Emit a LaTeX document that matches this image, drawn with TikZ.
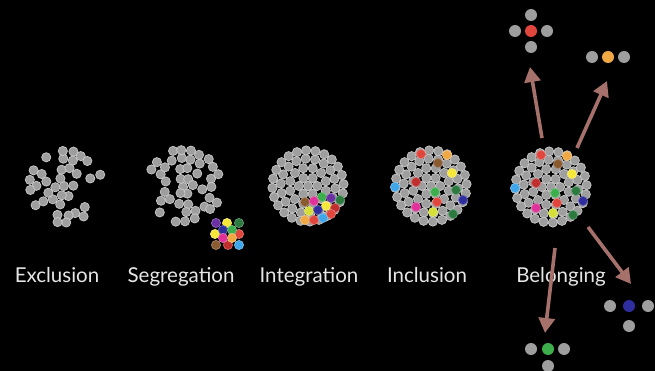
\documentclass[tikz,border=0pt]{standalone}
\usepackage{fontspec}
\setmainfont{Lato}
\usetikzlibrary{arrows.meta}
\definecolor{dotgray}{HTML}{9E9E9E}
\definecolor{rimgray}{HTML}{CACACA}
\definecolor{arrowc}{HTML}{A6716B}
\definecolor{cred}{HTML}{E0463C}
\definecolor{cdred}{HTML}{C02E2E}
\definecolor{corange}{HTML}{F0A845}
\definecolor{cbrown}{HTML}{8A5A30}
\definecolor{cyellow}{HTML}{F6E83A}
\definecolor{cyg}{HTML}{D6DE3A}
\definecolor{clblue}{HTML}{3FA6EA}
\definecolor{cgreen}{HTML}{3DAE4C}
\definecolor{cdgreen}{HTML}{2C7A40}
\definecolor{cdblue}{HTML}{2E2E9E}
\definecolor{cpurple}{HTML}{6B30A2}
\definecolor{cmag}{HTML}{E0329A}
\definecolor{labelc}{HTML}{E6E6E6}
\tikzset{
  gdot/.style={fill=dotgray, draw=rimgray, line width=0.7pt},
  kdot/.style={fill=#1, draw=#1!70!white, line width=0.6pt},
  lbl/.style={text=labelc, font=\fontsize{20.5}{22}\selectfont, anchor=base},
  arr/.style={draw=arrowc, line width=3.6pt, -{Triangle[length=15pt,width=16pt]}}
}
\newcommand{\dotcluster}[5]{%
  \pgfmathsetseed{#4}%
  \foreach \r/\n/\o in {0/1/0, 9.2/6/0, 18.4/12/15, 27.4/18/5, 35.6/24/12}{%
    \foreach \k in {1,...,\n}{%
      \pgfmathsetmacro\aa{\o+360*\k/\n}%
      \pgfmathtruncatemacro\keep{rnd>=#3}%
      \pgfmathsetmacro\px{#1+\r*cos(\aa)+(rnd-0.5)*#5}%
      \pgfmathsetmacro\py{#2+\r*sin(\aa)+(rnd-0.5)*#5}%
      \ifnum\keep=1
        \draw[gdot] (\px,\py) circle (4.6);
      \fi
    }%
  }%
}
\newcommand{\cd}[3]{\draw[kdot=#3] (#1,#2) circle (4.6);}
\begin{document}
\begin{tikzpicture}[x=1pt,y=-1pt]
\fill[black] (0,0) rectangle (655,371);
\useasboundingbox (0,0) rectangle (655,371);

% clusters
\dotcluster{65}{187}{0.27}{7}{3}
\dotcluster{184}{186}{0.27}{21}{3}
\dotcluster{308}{186}{0}{1}{0}
\dotcluster{431}{186}{0}{1}{0}
\dotcluster{551}{187}{0}{1}{0}

% segregation colored group
\cd{216}{223}{cpurple}\cd{227}{223}{cyellow}\cd{239}{223}{cdgreen}
\cd{215}{234}{cyellow}\cd{239}{234}{cred}
\cd{216}{245}{cbrown}\cd{228}{245}{cdred}\cd{239}{245}{clblue}
\cd{223}{230}{cdblue}\cd{232}{230}{cgreen}
\cd{223}{238}{cmag}\cd{232}{238}{corange}

% integration colored
\cd{322}{197}{cgreen}\cd{331}{198}{cpurple}\cd{340}{200}{cdgreen}
\cd{305}{202}{cbrown}\cd{314}{201}{cmag}\cd{326}{206}{cyellow}
\cd{335}{208}{cdred}\cd{309}{211}{cyg}\cd{318}{210}{cdblue}
\cd{331}{214}{cred}\cd{305}{220}{corange}\cd{314}{220}{cred}
\cd{323}{218}{clblue}

% inclusion and belonging colored
\foreach \dx/\dy in {0/0,120/1}{
\cd{421+\dx}{154+\dy}{cred}\cd{447+\dx}{155+\dy}{corange}
\cd{438+\dx}{163+\dy}{cbrown}\cd{452+\dx}{173+\dy}{cyellow}
\cd{395+\dx}{187+\dy}{clblue}\cd{416+\dx}{182+\dy}{cdred}
\cd{435+\dx}{192+\dy}{cgreen}\cd{456+\dx}{190+\dy}{cdgreen}
\cd{437+\dx}{202+\dy}{cred}\cd{463+\dx}{200+\dy}{cdblue}
\cd{416+\dx}{207+\dy}{cmag}\cd{433+\dx}{212+\dy}{cyg}
\cd{453+\dx}{214+\dy}{cdgreen}
}

% labels
\node[lbl] (l1) at (57,282) {Exclusion};
\node[lbl] (l2) at (181,282) {Segregation};
\node[lbl] (l3) at (309,282) {Integration};
\node[lbl] (l4) at (427,282) {Inclusion};
\node[lbl] (l5) at (561,282) {Belonging};

% small groups
\foreach \p/\c in {{531,15}/dotgray,{515,31}/dotgray,{547,31}/dotgray,{531,47}/dotgray,{531,31}/cred,
  {592,57}/dotgray,{608,57}/corange,{624,57}/dotgray,
  {610,306}/dotgray,{629,306}/cdblue,{648,306}/dotgray,{629,326}/dotgray,
  {531,349}/dotgray,{548,349}/cgreen,{564,349}/dotgray,{548,366}/dotgray}
  \fill[\c] (\p) circle (6);

% arrows
\coordinate (s1) at (542,138); \coordinate (t1) at (530,67);
\coordinate (s2) at (577,148); \coordinate (t2) at (607,81);
\coordinate (s3) at (588,227); \coordinate (t3) at (631,284);
\coordinate (s4) at (555,248); \coordinate (t4) at (545,333);
\draw[arr] (s1) -- (t1);
\draw[arr] (s2) -- (t2);
\draw[arr] (s3) -- (t3);
\draw[arr] (s4) -- (t4);
\end{tikzpicture}
\end{document}
